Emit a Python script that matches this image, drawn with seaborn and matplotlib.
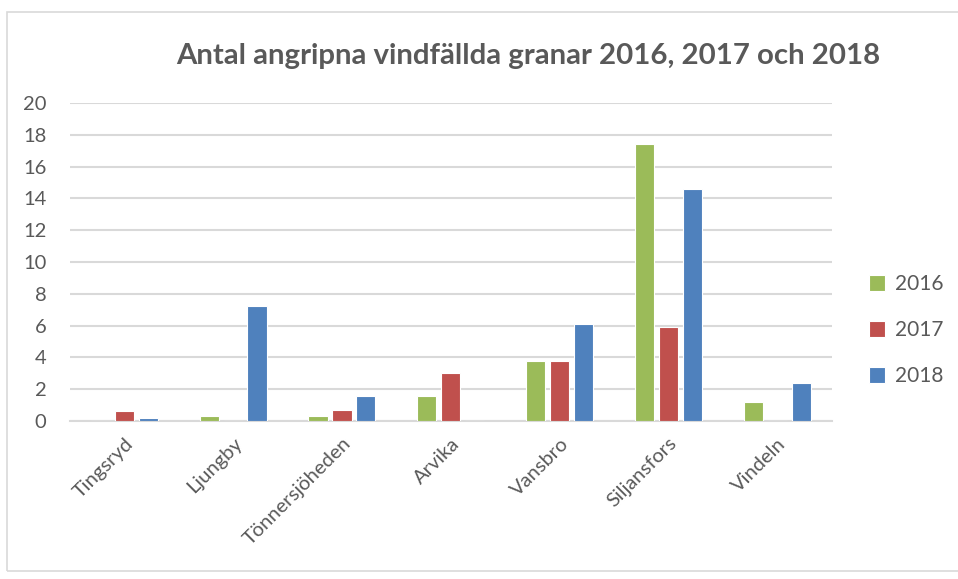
import pandas as pd
import matplotlib.pyplot as plt
import seaborn as sns
from matplotlib.patches import Rectangle

# Data
platser = ['Tingsryd', 'Ljungby', 'Tönnersjöheden', 'Arvika', 'Vansbro', 'Siljansfors', 'Vindeln']
ar = ['2016', '2017', '2018']
v2016 = [0, 0.3, 0.3, 1.6, 3.8, 17.4, 1.2]
v2017 = [0.6, 0, 0.7, 3.0, 3.8, 5.9, 0]
v2018 = [0.2, 7.2, 1.6, 0, 6.1, 14.6, 2.4]
farger = ['#9BBB59', '#C0504D', '#4F81BD']

df = pd.DataFrame({'Plats': platser * 3,
                   'År': [a for a in ar for _ in platser],
                   'Antal': v2016 + v2017 + v2018})

sns.set_style('white')
plt.rcParams['font.family'] = ['Lato', 'DejaVu Sans']
grey = '#595959'

fig = plt.figure(figsize=(9.58, 5.79), dpi=100)
ax = fig.add_axes([0.073, 0.273, 0.795, 0.549])

sns.barplot(data=df, x='Plats', y='Antal', hue='År', palette=farger, saturation=1,
            width=0.66, gap=0.2, edgecolor='white', linewidth=0.8, ax=ax, zorder=3)

ax.set_ylim(0, 20)
ax.set_yticks(range(0, 21, 2))
ax.yaxis.grid(True, color='#D9D9D9', linewidth=1.5, zorder=0)
ax.set_axisbelow(True)
for s in ['top', 'right', 'left']:
    ax.spines[s].set_visible(False)
ax.spines['bottom'].set_color('#D9D9D9')
ax.spines['bottom'].set_linewidth(1.5)
ax.tick_params(axis='both', length=0, colors=grey, labelsize=14.5)
ax.tick_params(axis='y', pad=17)
ax.tick_params(axis='x', pad=10)
plt.setp(ax.get_xticklabels(), rotation=45, ha='right', rotation_mode='anchor')
ax.set_xlabel('')
ax.set_ylabel('')

fig.text(0.551, 0.903, 'Antal angripna vindfällda granar 2016, 2017 och 2018',
         ha='center', va='center', fontsize=21.2, fontweight='bold', color=grey)

leg = ax.legend(loc='center left', bbox_to_anchor=(1.025, 0.285), frameon=False,
                fontsize=15, handlelength=0.75, handleheight=0.75, labelspacing=1.25,
                handletextpad=0.5)
for t in leg.get_texts():
    t.set_color(grey)

# outer frame of the chart area
fig.patches.append(Rectangle((7 / 958, 8 / 579), 1.5, 1 - 20 / 579, transform=fig.transFigure,
                             fill=False, edgecolor='#D9D9D9', linewidth=1.2))

fig.savefig('out.png', dpi=100)
